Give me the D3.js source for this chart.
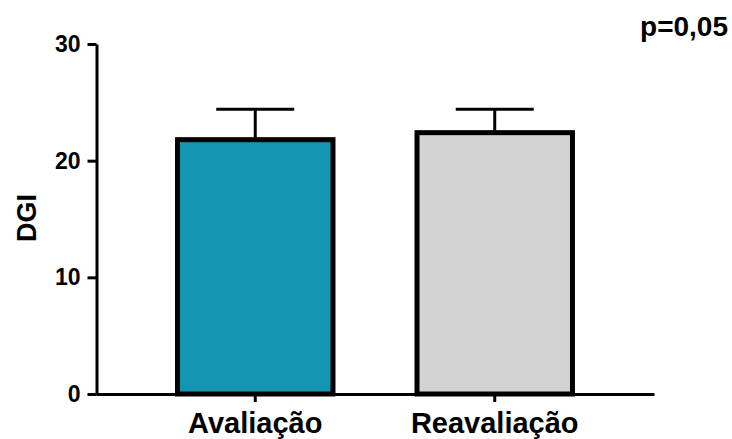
<!DOCTYPE html>
<html>
<head>
<meta charset="utf-8">
<script src="https://cdn.jsdelivr.net/npm/d3@7"></script>
<style>
  body { margin: 0; background: #fff; }
  text { font-family: "Liberation Sans", Arial, sans-serif; font-weight: bold; }
</style>
</head>
<body>
<div id="chart"></div>
<script>
// data
var groups = ["Avaliação", "Reavaliação"];
var means = [21.8, 22.4];
var sdUpper = [24.4, 24.4];
var barColors = ["#1496b2", "#d3d3d3"];
var yTicks = [0, 10, 20, 30];

var width = 732,
    height = 439;

var svg = d3.select("#chart")
  .append("svg")
  .attr("width", width)
  .attr("height", height);

var x = d3.scaleBand()
  .domain(groups)
  .range([96, 654])
  .paddingInner(0.33)
  .paddingOuter(0.33);

var y = d3.scaleLinear()
  .domain([0, 30])
  .range([394, 44]);

// error bars (drawn first so the bar border covers the stem)
var err = svg.append("g");
groups.forEach(function(g, i) {
  var cx = x(g) + x.bandwidth() / 2;
  err.append("line")
    .attr("x1", cx).attr("x2", cx)
    .attr("y1", y(means[i])).attr("y2", y(sdUpper[i]))
    .attr("stroke", "#000").attr("stroke-width", 3);
  err.append("line")
    .attr("x1", cx - 39).attr("x2", cx + 39)
    .attr("y1", y(sdUpper[i])).attr("y2", y(sdUpper[i]))
    .attr("stroke", "#000").attr("stroke-width", 3);
});

// bars
svg.append("g")
  .selectAll("rect")
  .data(groups)
  .enter()
  .append("rect")
  .attr("x", function(d) { return x(d) + 2.5; })
  .attr("width", x.bandwidth() - 5)
  .attr("y", function(d, i) { return y(means[i]); })
  .attr("height", function(d, i) { return y(0) - y(means[i]); })
  .attr("fill", function(d, i) { return barColors[i]; })
  .attr("stroke", "#000")
  .attr("stroke-width", 5);

// y axis
var yAxis = svg.append("g")
  .attr("transform", "translate(96.5,0)")
  .call(d3.axisLeft(y).tickValues(yTicks).tickSize(9).tickPadding(7).tickSizeOuter(0));
yAxis.select(".domain").attr("stroke-width", 3);
yAxis.selectAll(".tick line").attr("stroke-width", 3);
yAxis.selectAll(".tick text")
  .style("font-size", "23px")
  .attr("fill", "#000");

// x axis
var xAxis = svg.append("g")
  .attr("transform", "translate(0,394)")
  .call(d3.axisBottom(x).tickSize(8).tickPadding(6).tickSizeOuter(0));
xAxis.select(".domain").attr("stroke-width", 3);
xAxis.selectAll(".tick line").attr("stroke-width", 3);
xAxis.selectAll(".tick text")
  .style("font-size", "29px")
  .attr("fill", "#000")
  .attr("dy", null)
  .attr("y", 39);

// y label
svg.append("text")
  .attr("transform", "translate(36,218) rotate(-90)")
  .attr("text-anchor", "middle")
  .style("font-size", "27px")
  .text("DGI");

// p value
svg.append("text")
  .attr("x", 728)
  .attr("y", 36)
  .attr("text-anchor", "end")
  .style("font-size", "28px")
  .text("p=0,05");
</script>
</body>
</html>
